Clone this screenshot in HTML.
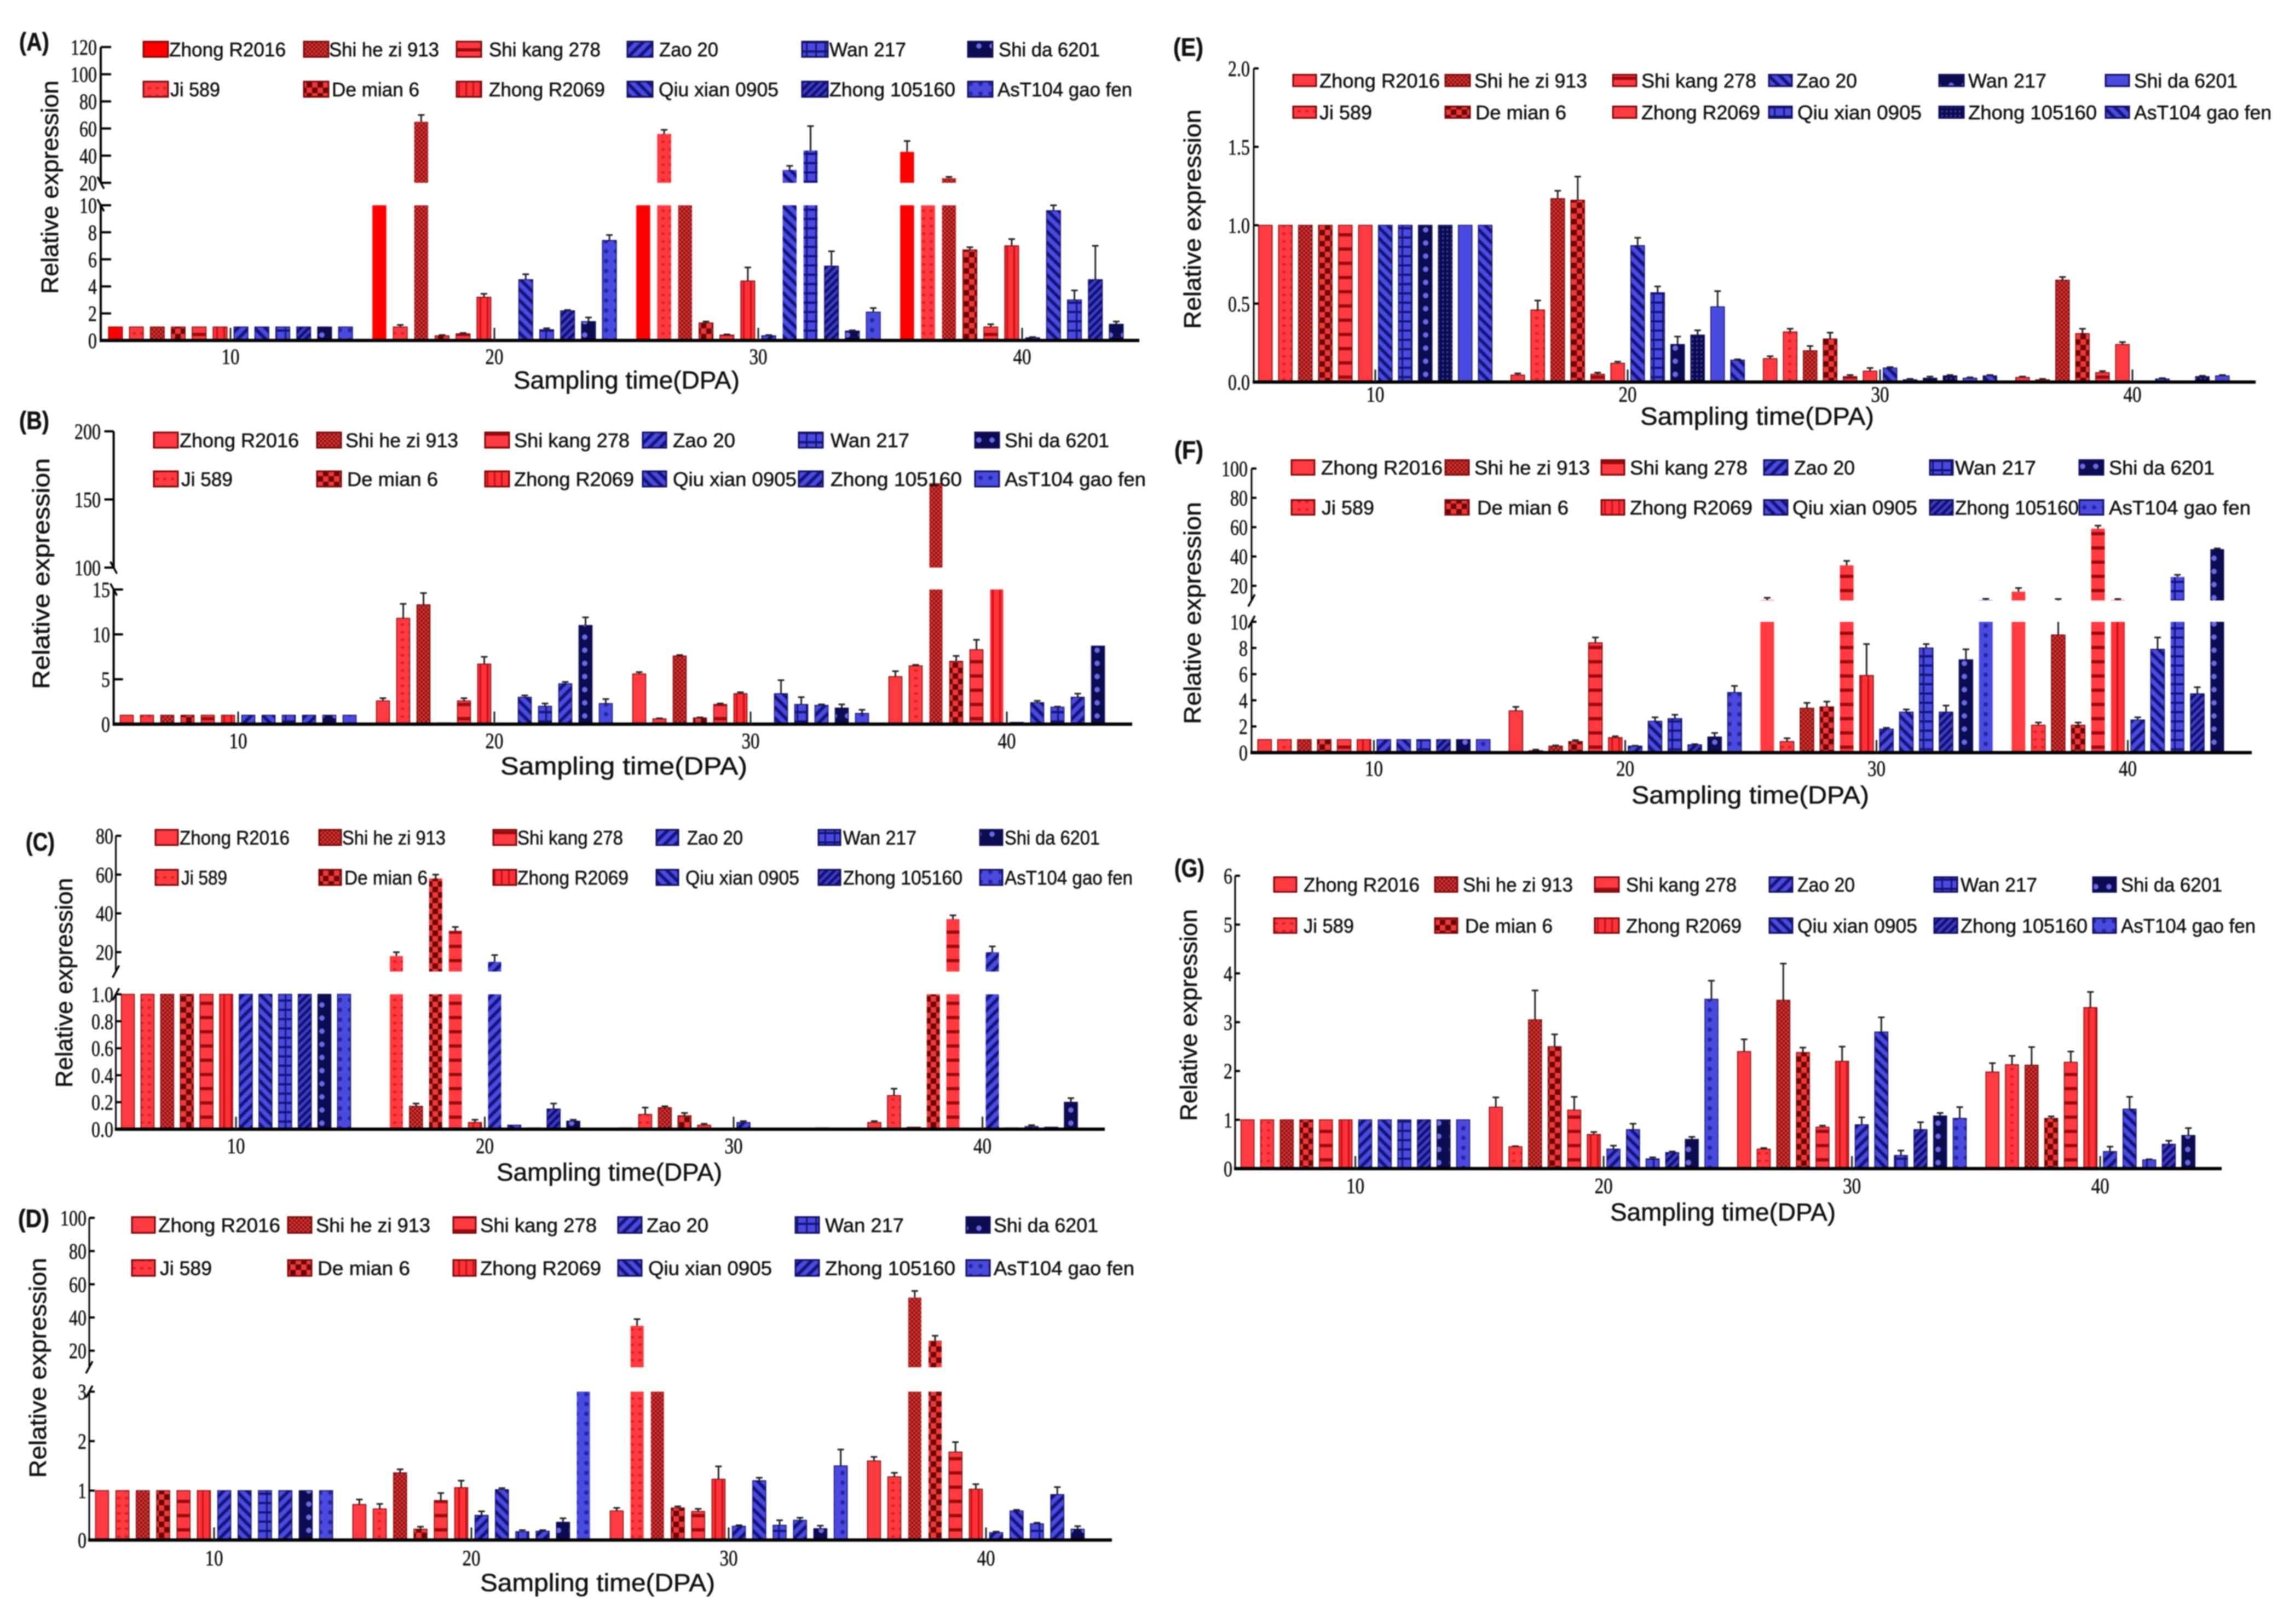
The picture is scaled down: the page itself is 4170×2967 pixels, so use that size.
<!DOCTYPE html>
<html lang="en">
<head>
<meta charset="utf-8">
<title>Relative expression across sampling time, panels A to G</title>
<style>
html,body{margin:0;padding:0;background:#fff}
svg{display:block;filter:blur(1px)}
text{fill:#111;stroke:#111;stroke-width:.6}
.leg,.xt{font-family:"Liberation Sans",sans-serif}
.tick{font-family:"Liberation Serif",serif}
</style>
</head>
<body>
<svg id="figure" xmlns="http://www.w3.org/2000/svg" width="4170" height="2967" viewBox="0 0 4170 2967">
<defs>
<pattern id="redDots" width="14" height="14" patternUnits="userSpaceOnUse"><rect width="14" height="14" fill="#ff3a40"/><rect x="4" y="5" width="6" height="4" fill="#e01c20"/></pattern>
<pattern id="darkFine" width="8" height="8" patternUnits="userSpaceOnUse"><rect width="8" height="8" fill="#8c1010"/><rect width="4" height="4" fill="#d83a3a"/><rect x="4" y="4" width="4" height="4" fill="#d83a3a"/></pattern>
<pattern id="darkChk" width="20" height="20" patternUnits="userSpaceOnUse"><rect width="20" height="20" fill="#6c0606"/><rect width="10" height="10" fill="#f03a3a"/><rect x="10" y="10" width="10" height="10" fill="#f03a3a"/></pattern>
<pattern id="redH" width="26" height="26" patternUnits="userSpaceOnUse"><rect width="26" height="26" fill="#ff3a40"/><rect y="10" width="26" height="6" fill="#9a0c10"/></pattern>
<pattern id="redV" width="13" height="13" patternUnits="userSpaceOnUse"><rect width="13" height="13" fill="#ff3238"/><rect x="5" width="3" height="13" fill="#c01216"/></pattern>
<pattern id="bFwd" width="14" height="14" patternUnits="userSpaceOnUse" patternTransform="rotate(45)"><rect width="14" height="14" fill="#4a4ae0"/><rect width="6" height="14" fill="#14147a"/></pattern>
<pattern id="bBack" width="14" height="14" patternUnits="userSpaceOnUse" patternTransform="rotate(-45)"><rect width="14" height="14" fill="#4a4ae0"/><rect width="6" height="14" fill="#14147a"/></pattern>
<pattern id="bDense" width="10" height="10" patternUnits="userSpaceOnUse" patternTransform="rotate(45)"><rect width="10" height="10" fill="#3c3cc8"/><rect width="5" height="10" fill="#10106c"/></pattern>
<pattern id="bGrid" width="17" height="17" patternUnits="userSpaceOnUse"><rect width="17" height="17" fill="#4a4ae0"/><rect y="7" width="17" height="4" fill="#14147a"/><rect x="10" width="3" height="17" fill="#14147a"/></pattern>
<pattern id="navyDots" width="24" height="24" patternUnits="userSpaceOnUse"><rect width="24" height="24" fill="#0c0c50"/><circle cx="12" cy="12" r="5" fill="#6a6ae8"/></pattern>
<pattern id="navyFine" width="8" height="8" patternUnits="userSpaceOnUse"><rect width="8" height="8" fill="#0c0c50"/><rect x="2" y="2" width="3" height="3" fill="#4a4ab8"/></pattern>
<pattern id="bDots" width="18" height="18" patternUnits="userSpaceOnUse"><rect width="18" height="18" fill="#4a4ae0"/><circle cx="9" cy="9" r="4" fill="#2626a0"/></pattern>
</defs>
</svg>
<script>
const categories = [10, 20, 30, 40];
const seriesNames = ["Zhong R2016", "Ji 589", "Shi he zi 913", "De mian 6", "Shi kang 278", "Zhong R2069", "Zao 20", "Qiu xian 0905", "Wan 217", "Zhong 105160", "Shi da 6201", "AsT104 gao fen"];

const valuesA = [
  [1,1,1,1,1,1,1,1,1,1,1,1],
  [15,1.0,65,0.35,0.5,3.2,0.05,4.5,0.8,2.2,1.4,7.4],
  [15,56,15,1.3,0.4,4.4,0.35,29.5,43.8,5.5,0.7,2.1],
  [42.8,15,23.4,6.7,1.0,7.0,0.2,9.6,3,4.5,1.2,0]
];
const errorsA = [
  [0,0,0,0,0,0,0,0,0,0,0,0],
  [0,0.15,5,0.05,0.05,0.25,0,0.4,0.1,0.05,0.3,0.4],
  [0,3,0,0.1,0.05,1,0.05,3,18,1.1,0.05,0.3],
  [8,0,1,0.2,0.2,0.5,0.05,0.4,0.7,2.5,0.2,0]
];
const ticksA = [0,2,4,6,8,10,20,40,60,80,100,120];

const valuesB = [
  [1,1,1,1,1,1,1,1,1,1,1,1],
  [2.6,11.8,13.3,0.15,2.6,6.7,0,3.0,2,4.5,11,2.3],
  [5.6,0.6,7.6,0.7,2.2,3.4,0.05,3.4,2.2,2.1,1.8,1.2],
  [5.3,6.5,162,7,8.3,30,0.2,2.4,1.9,3,8.7,0]
];
const errorsB = [
  [0,0,0,0,0,0,0,0,0,0,0,0],
  [0.3,1.6,1.3,0,0.3,0.8,0,0.2,0.3,0.2,0.9,0.5],
  [0.2,0.05,0.1,0.05,0.1,0.15,0,1.5,0.8,0.1,0.4,0.4],
  [0.6,0.1,0,0.6,1.1,0,0,0.2,0.05,0.4,0,0]
];
const ticksB = [0,5,10,15,100,150,200];

const valuesC = [
  [1,1,1,1,1,1,1,1,1,1,1,1],
  [0,18,0.17,58,31,0.05,15,0.03,0.01,0.15,0.06,0.005],
  [0.01,0.11,0.16,0.1,0.03,0,0.05,0,0,0,0.01,0],
  [0.05,0.25,0.015,5,37,0,20,0.01,0.02,0.015,0.2,0]
];
const errorsC = [
  [0,0,0,0,0,0,0,0,0,0,0,0],
  [0,2,0.02,2,2,0.02,3.5,0,0,0.04,0.01,0],
  [0,0.05,0.01,0.02,0.01,0,0.01,0,0,0,0,0],
  [0.01,0.05,0,0,2,0,3,0,0.01,0,0.03,0]
];
const ticksC = [0,0.2,0.4,0.6,0.8,1.0,20,40,60,80];

const valuesD = [
  [1,1,1,1,1,1,1,1,1,1,1,1],
  [0.72,0.63,1.36,0.22,0.8,1.06,0.5,1.02,0.17,0.18,0.36,6],
  [0.59,35,6,0.65,0.58,1.23,0.28,1.2,0.3,0.4,0.23,1.5],
  [1.6,1.28,52,26,1.78,1.03,0.15,0.59,0.33,0.92,0.22,0]
];
const errorsD = [
  [0,0,0,0,0,0,0,0,0,0,0,0],
  [0.1,0.1,0.07,0.05,0.15,0.14,0.08,0.03,0.03,0.02,0.08,0],
  [0.06,4,0,0.03,0.05,0.26,0.02,0.06,0.1,0.05,0.06,0.33],
  [0.08,0.08,4,3,0.2,0.1,0.02,0.02,0.02,0.15,0.06,0]
];
const ticksD = [0,1,2,3,20,40,60,80,100];

const valuesE = [
  [1,1,1,1,1,1,1,1,1,1,1,1],
  [0.045,0.46,1.17,1.16,0.05,0.12,0.87,0.57,0.24,0.3,0.48,0.14],
  [0.15,0.32,0.2,0.275,0.035,0.07,0.09,0.015,0.025,0.04,0.025,0.04],
  [0.03,0.015,0.65,0.31,0.06,0.24,0.005,0.02,0.005,0.035,0.04,0]
];
const errorsE = [
  [0,0,0,0,0,0,0,0,0,0,0,0],
  [0.01,0.06,0.05,0.15,0.01,0.01,0.05,0.04,0.05,0.03,0.1,0.005],
  [0.015,0.02,0.03,0.04,0.01,0.02,0.005,0.005,0.01,0.005,0.005,0.005],
  [0.005,0.005,0.02,0.03,0.01,0.015,0,0.005,0,0.005,0.005,0]
];
const ticksE = [0,0.5,1.0,1.5,2.0];

const valuesF = [
  [1,1,1,1,1,1,1,1,1,1,1,1],
  [3.2,0.15,0.5,0.85,8.4,1.15,0.5,2.4,2.6,0.6,1.2,4.6],
  [10.3,0.85,3.4,3.5,34,5.9,1.8,3.1,8,3.1,7.1,10.3],
  [16,2.1,9,2.1,59,10.3,2.5,7.9,26,4.5,45,0]
];
const errorsF = [
  [0,0,0,0,0,0,0,0,0,0,0,0],
  [0.3,0.08,0.05,0.1,0.4,0.1,0.03,0.3,0.3,0.05,0.3,0.5],
  [1.5,0.25,0.4,0.4,3,2.4,0.1,0.2,0.3,0.5,0.8,0.8],
  [2.5,0.2,2,0.2,2,0.7,0.2,0.9,1.5,0.5,0.5,0]
];
const ticksF = [0,2,4,6,8,10,20,40,60,80,100];

const valuesG = [
  [1,1,1,1,1,1,1,1,1,1,1,1],
  [1.26,0.45,3.05,2.5,1.2,0.7,0.4,0.8,0.2,0.33,0.6,3.47],
  [2.4,0.4,3.45,2.38,0.85,2.2,0.9,2.8,0.27,0.8,1.08,1.03],
  [1.98,2.13,2.12,1.03,2.18,3.3,0.35,1.22,0.18,0.5,0.68,0]
];
const errorsG = [
  [0,0,0,0,0,0,0,0,0,0,0,0],
  [0.2,0.01,0.6,0.25,0.27,0.05,0.07,0.12,0.03,0.02,0.05,0.38],
  [0.25,0.02,0.75,0.1,0.03,0.3,0.15,0.3,0.1,0.15,0.06,0.23],
  [0.18,0.18,0.37,0.04,0.22,0.32,0.1,0.25,0.01,0.07,0.15,0]
];
const ticksG = [0,1,2,3,4,5,6];

const SVGNS = "http://www.w3.org/2000/svg";
const root = document.getElementById("figure");
const RED = "#ff3a40";
const styleBase = ["RED","redDots","darkFine","darkChk","redH","redV","bFwd","bBack","bGrid","bDense","navyDots","bDots"];
const styleAlt  = ["RED","redDots","darkFine","darkChk","redH","redV","bFwd","bBack","bGrid","bFwd","navyDots","bDots"];
const styleE    = ["RED","redDots","darkFine","darkChk","redH","RED","bBack","bGrid","navyDots","navyFine","PLAIN","bBack"];
const styleA    = ["PURE","redDots","darkFine","darkChk","redH","redV","bFwd","bBack","bGrid","bDense","navyDots","bDots"];

function mk(tag, attrs, parent) {
  const el = document.createElementNS(SVGNS, tag);
  for (const k in attrs) el.setAttribute(k, attrs[k]);
  (parent || root).appendChild(el);
  return el;
}
function fillOf(id) {
  if (id === "RED") return RED;
  if (id === "PURE") return "#ff0000";
  if (id === "PLAIN") return "#4a4ae0";
  return "url(#" + id + ")";
}
function makeScale(c) {
  return function (v) {
    if (c.upperBase === undefined || v <= c.lowerMax) {
      return c.baseY + (c.lowerTopY - c.baseY) * v / c.lowerMax;
    }
    if (v < c.upperBase) return c.lowerTopY;
    return c.upperBaseY + (c.upperTopY - c.upperBaseY) * (v - c.upperBase) / (c.upperMax - c.upperBase);
  };
}

const panels = [
 {id:"a", letter:"(A)", lx:35, ly:92, lw:55, values:valuesA, errors:errorsA, ticks:ticksA, style:styleA,
  axisX:184, endX:2081, tick0:421, step:482, pitch:38.2, barW:25.5, baseY:622, lowerMax:10, lowerTopY:375, upperBase:20, upperBaseY:334, upperMax:120, upperTopY:86,
  labelR:177, tickLen:19, axisW:4, xLabelY:665, xTitle:[938,1351,710], yTitle:[106,537,390], breakDir:1,
  legendRows:[90,163], swH:28, legendCols:[[262,307,309,522,311,402],[555,600,601,802,606,766],[834,879,893,1097,893,1105],[1146,1192,1204,1312,1203,1422],[1465,1512,1515,1655,1515,1745],[1768,1813,1824,2009,1822,2068]]},
 {id:"b", letter:"(B)", lx:35, ly:784, lw:55, values:valuesB, errors:errorsB, ticks:ticksB, style:styleAlt,
  axisX:207.6, endX:2068, tick0:435, step:468, pitch:37, barW:24, baseY:1323, lowerMax:15, lowerTopY:1077, upperBase:100, upperBaseY:1037, upperMax:200, upperTopY:788,
  labelR:201, labelRUpper:184, upperTickLeft:true, tickLen:17, axisW:4, xLabelY:1367, xTitle:[914,1365,1415], yTitle:[90,1259,422], breakDir:1,
  legendRows:[804,875], swH:28, legendCols:[[281,325,328,546,331,425],[579,623,631,837,634,800],[886,930,939,1150,939,1158],[1174,1217,1229,1343,1229,1455],[1459,1503,1517,1661,1517,1757],[1781,1825,1835,2026,1835,2093]]},
 {id:"c", letter:"(C)", lx:47, ly:1554, lw:53, values:valuesC, errors:errorsC, ticks:ticksC, style:styleBase,
  axisX:211.6, endX:2018, tick0:431, step:454.5, pitch:35.9, barW:24, baseY:2063, lowerMax:1, lowerTopY:1816.5, upperBase:10, upperBaseY:1775, upperMax:80, upperTopY:1527,
  labelR:207, tickLen:10, axisW:3, xLabelY:2107, xTitle:[907,1319,2157], yTitle:[132,1987,383], breakDir:-1,
  legendRows:[1530,1603], swH:28, legendCols:[[284,325,328,529,331,415],[583,623,625,814,629,781],[901,943,945,1138,945,1148],[1199,1239,1255,1357,1252,1460],[1495,1535,1540,1674,1540,1758],[1790,1831,1835,2009,1835,2069]]},
 {id:"d", letter:"(D)", lx:33, ly:2242, lw:57, values:valuesD, errors:errorsD, ticks:ticksD, style:styleAlt,
  axisX:163, endX:2031, tick0:391, step:470, pitch:37.2, barW:24, baseY:2813.6, lowerMax:3, lowerTopY:2542.5, upperBase:10, upperBaseY:2498, upperMax:100, upperTopY:2225,
  labelR:158, tickLen:10, axisW:3, xLabelY:2860, xTitle:[877,1306,2907], yTitle:[84,2700,402], breakDir:-1,
  legendRows:[2238,2316.5], swH:29, legendCols:[[241,283,289,512,292,387],[526,569,577,786,580,749],[828,869,877,1090,877,1098],[1129,1172,1181,1294,1184,1410],[1453,1496,1507,1651,1507,1745],[1765,1808,1815,2006,1815,2072]]},
 {id:"e", letter:"(E)", lx:2143, ly:102, lw:55, values:valuesE, errors:errorsE, ticks:ticksE, style:styleE,
  axisX:2290, endX:4120, tick0:2512, step:461, pitch:36.5, barW:25, baseY:698, lowerMax:2, lowerTopY:125,
  labelR:2283, tickLen:9, axisW:3, xLabelY:734, xTitle:[2996,3423,776], yTitle:[2193,601,401], decimals:1,
  legendRows:[147,205], swH:21, legendCols:[[2362,2404,2410,2630,2410,2506],[2640,2685,2693,2899,2695,2861],[2946,2989,2998,3208,2998,3215],[3231,3273,3281,3392,3283,3510],[3542,3587,3595,3738,3595,3830],[3846,3889,3898,4087,3898,4149]]},
 {id:"f", letter:"(F)", lx:2145, ly:838, lw:53, values:valuesF, errors:errorsF, ticks:ticksF, style:styleBase,
  axisX:2286, endX:4113, tick0:2509.5, step:459, pitch:36.3, barW:25, baseY:1375, lowerMax:10, lowerTopY:1136, upperBase:10, upperBaseY:1097, upperMax:100, upperTopY:856,
  labelR:2279, tickLen:9, axisW:3, xLabelY:1417.5, xTitle:[2980,3414,1468], yTitle:[2193,1323,406], breakDir:-1,
  legendRows:[854,927], swH:27, legendCols:[[2359,2401,2413,2635,2414,2510],[2640,2683,2693,2904,2698,2865],[2925,2967,2977,3192,2977,3201],[3222,3265,3277,3388,3274,3502],[3525,3567,3571,3719,3571,3797],[3798,3842,3852,4045,3852,4111]]},
 {id:"g", letter:"(G)", lx:2145, ly:1602, lw:55, values:valuesG, errors:errorsG, ticks:ticksG, style:styleBase,
  axisX:2256, endX:4058, tick0:2475.6, step:453.5, pitch:35.8, barW:24, baseY:2135, lowerMax:6, lowerTopY:1600,
  labelR:2251, tickLen:9, axisW:3, xLabelY:2180, xTitle:[2941,3353,2230], yTitle:[2186,2048,387],
  legendRows:[1616,1691], swH:27, legendCols:[[2327,2368,2381,2593,2381,2473],[2621,2662,2672,2873,2676,2836],[2913,2957,2970,3172,2970,3181],[3232,3274,3283,3388,3283,3502],[3533,3575,3581,3721,3581,3813],[3823,3865,3874,4059,3874,4120]]}
];

function fmtTick(v, p) {
  const hasDec = p.ticks.some(function (t) { return t % 1 !== 0; });
  if (hasDec && p.upperBase !== undefined && v >= 20) return String(v);
  return hasDec ? v.toFixed(1) : String(v);
}
function numWidth(s) {
  let w = 0;
  for (const ch of s) w += ch === "." ? 8 : 16;
  return w;
}

panels.forEach(function (p) {
  const y = makeScale(p);
  const g = mk("g", {});
  
  

  // panel letter
  const letter = mk("text", {x:p.lx, y:p.ly, "font-size":46, "font-weight":"bold", "font-family":'"Liberation Sans",sans-serif', textLength:p.lw, lengthAdjust:"spacingAndGlyphs"}, g);
  letter.textContent = p.letter;
  
  

  // bars and error bars
  p.values.forEach(function (row, gi) {
    const tickX = p.tick0 + gi * p.step;
    row.forEach(function (v, si) {
      if (v <= 0) return;
      const cx = tickX + (si - 5.5) * p.pitch;
      const x0 = cx - p.barW / 2;
      const stroke = si < 6 ? "#7a0808" : "#10105c";
      const fill = fillOf(p.style[si]);
      const broken = p.upperBase !== undefined && v > p.lowerMax;
      const lowTop = y(broken ? p.lowerMax : v);
      const lower = mk("rect", {x:x0, y:lowTop, width:p.barW, height:p.baseY - lowTop, fill:fill, stroke:stroke, "stroke-width":broken ? 0 : 1.5}, g);
      
      
      if (broken && v > p.upperBase) {
        const upTop = y(v);
        const upper = mk("rect", {x:x0, y:upTop, width:p.barW, height:p.upperBaseY - upTop, fill:fill}, g);
        
        
      }
      const e = p.errors[gi][si];
      if (e > 0) {
        const top = v + e;
        const hasBreak = p.upperBase !== undefined;
        const topInGap = hasBreak && top > p.lowerMax && top < p.upperBase;
        if (!topInGap) {
          const yTop = y(top);
          let yBot = y(v);
          if (hasBreak && v <= p.lowerMax && top > p.lowerMax) yBot = p.upperBaseY;
          const err = mk("path", {d:"M" + cx + " " + yBot + "V" + yTop + "M" + (cx - 6) + " " + yTop + "H" + (cx + 6), stroke:"#222", "stroke-width":3, fill:"none"}, g);
          
          
        }
        if (hasBreak && v <= p.lowerMax && top > p.lowerMax) {
          const errLow = mk("path", {d:"M" + cx + " " + y(v) + "V" + p.lowerTopY, stroke:"#222", "stroke-width":3, fill:"none"}, g);
          
          
        }
      }
    });
  });

  // baseline
  const base = mk("line", {x1:p.axisX - 2, x2:p.endX, y1:p.baseY, y2:p.baseY, stroke:"#000", "stroke-width":6}, g);
  
  

  // y axis
  const yTopLower = p.lowerTopY;
  const axisLow = mk("line", {x1:p.axisX, x2:p.axisX, y1:p.baseY, y2:yTopLower, stroke:"#000", "stroke-width":p.axisW}, g);
  
  
  if (p.upperBase !== undefined) {
    const axisUp = mk("line", {x1:p.axisX, x2:p.axisX, y1:p.upperBaseY, y2:p.upperTopY, stroke:"#000", "stroke-width":p.axisW}, g);
    
    
    const d = p.breakDir;
    const b1 = mk("line", {x1:p.axisX - d * 6, x2:p.axisX + d * 6, y1:p.upperBaseY - 11, y2:p.upperBaseY + 11, stroke:"#000", "stroke-width":3.5}, g);
    
    
    const b2 = mk("line", {x1:p.axisX - d * 6, x2:p.axisX + d * 6, y1:p.lowerTopY - 11, y2:p.lowerTopY + 11, stroke:"#000", "stroke-width":3.5}, g);
    
    
  }

  // y ticks
  p.ticks.forEach(function (t) {
    const ty = y(t);
    const isUpper = p.upperBase !== undefined && t > p.lowerMax;
    const left = isUpper && p.upperTickLeft;
    const tk = mk("line", {x1:p.axisX, x2:left ? p.axisX - p.tickLen : p.axisX + p.tickLen, y1:ty, y2:ty, stroke:"#000", "stroke-width":4}, g);
    
    
    const s = fmtTick(t, p);
    const right = isUpper && p.labelRUpper ? p.labelRUpper : p.labelR;
    const lab = mk("text", {"class":"tick", x:right, y:ty + 14, "font-size":40, "text-anchor":"end", textLength:numWidth(s), lengthAdjust:"spacingAndGlyphs"}, g);
    lab.textContent = s;
    
    
  });

  // x ticks
  categories.forEach(function (c, i) {
    const tx = p.tick0 + i * p.step;
    const tk = mk("line", {x1:tx, x2:tx, y1:p.baseY, y2:p.baseY - 23, stroke:"#222", "stroke-width":3}, g);
    
    
    const lab = mk("text", {"class":"tick", x:tx, y:p.xLabelY, "font-size":40, "text-anchor":"middle", textLength:33, lengthAdjust:"spacingAndGlyphs"}, g);
    lab.textContent = String(c);
    
    
  });

  // axis titles
  const xt = mk("text", {"class":"xt", x:p.xTitle[0], y:p.xTitle[2], "font-size":45, textLength:p.xTitle[1] - p.xTitle[0], lengthAdjust:"spacingAndGlyphs"}, g);
  xt.textContent = "Sampling time(DPA)";
  
  
  const yt = mk("text", {"class":"xt", x:p.yTitle[0], y:p.yTitle[1], "font-size":44, textLength:p.yTitle[2], lengthAdjust:"spacingAndGlyphs", transform:"rotate(-90 " + p.yTitle[0] + " " + p.yTitle[1] + ")"}, g);
  yt.textContent = "Relative expression";
  
  

  // legend
  const lg = mk("g", {}, g);
  
  
  p.legendCols.forEach(function (col, ci) {
    [0, 1].forEach(function (r) {
      const si = ci * 2 + r;
      const ry = p.legendRows[r];
      const sw = mk("rect", {x:col[0], y:ry - p.swH / 2, width:col[1] - col[0], height:p.swH, fill:fillOf(p.style[si]), stroke:si < 6 ? "#7a0808" : "#10105c", "stroke-width":3}, lg);
      
      
      const x1 = col[2 + r * 2], x2 = col[3 + r * 2];
      const t = mk("text", {"class":"leg", x:x1, y:ry + 13, "font-size":36, textLength:x2 - x1, lengthAdjust:"spacingAndGlyphs"}, lg);
      t.textContent = seriesNames[si];
      
      
    });
  });
});
</script>
</body>
</html>
